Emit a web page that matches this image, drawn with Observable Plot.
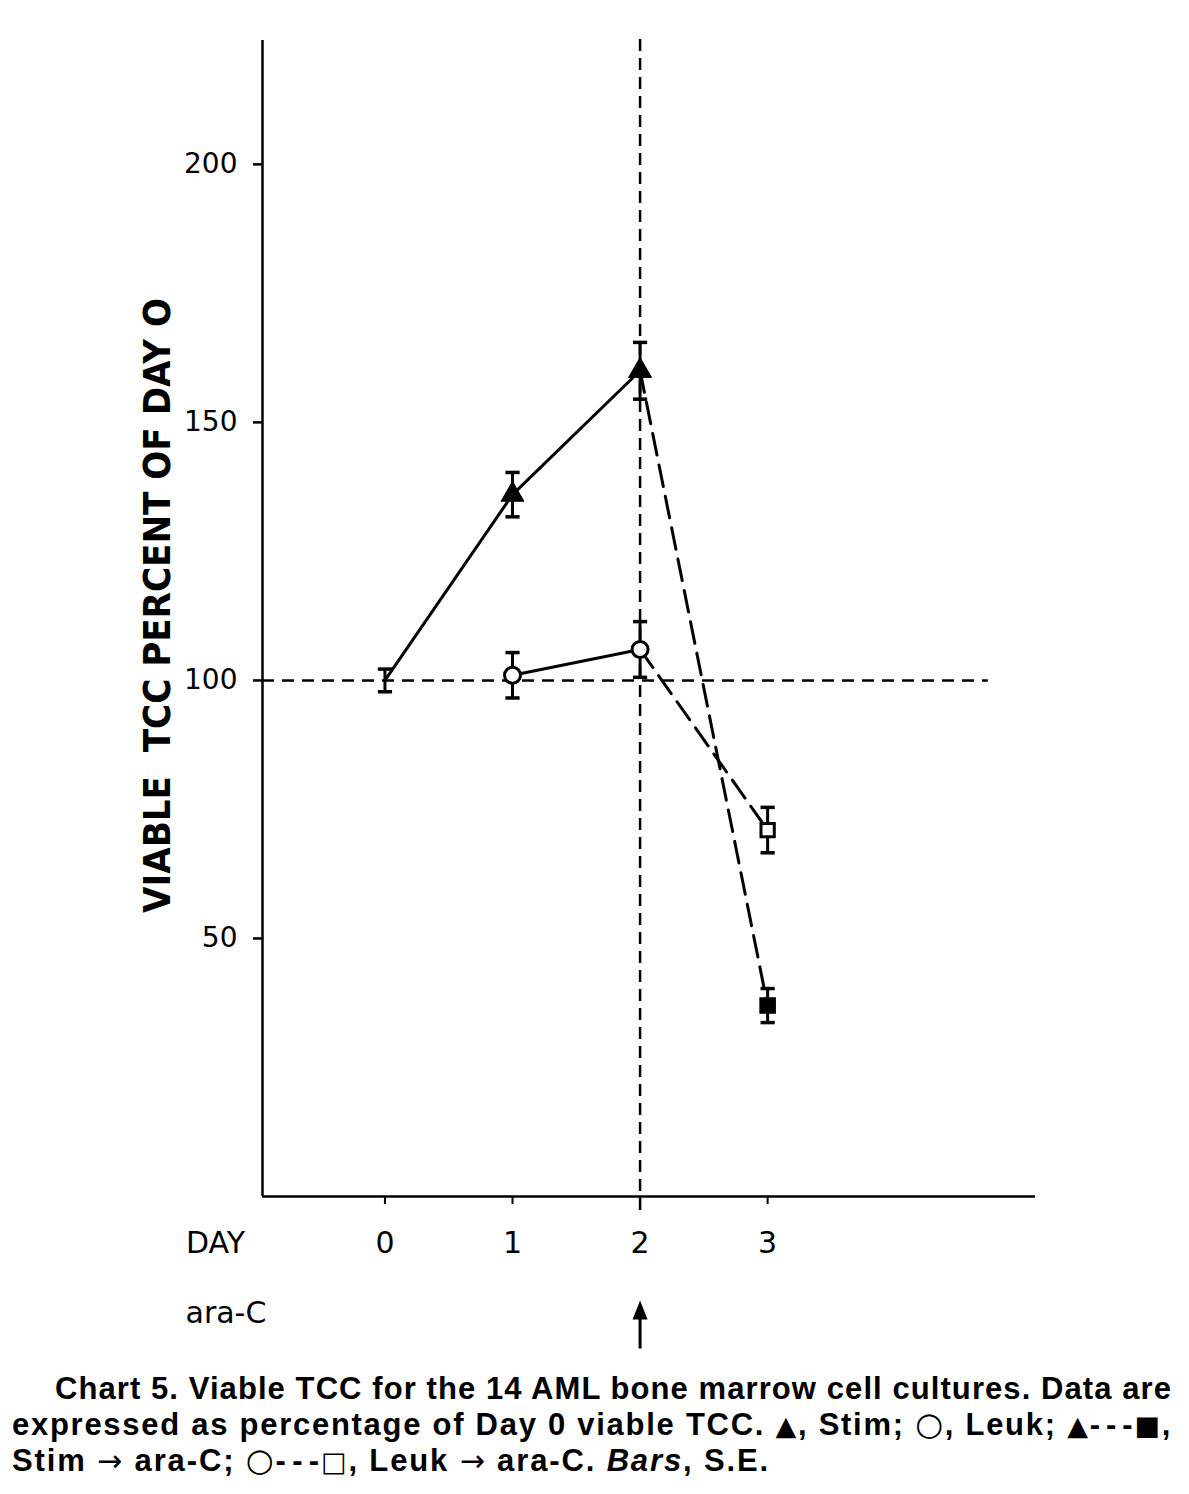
<!DOCTYPE html>
<html>
<head>
<meta charset="utf-8">
<script src="https://cdn.jsdelivr.net/npm/d3@7"></script>
<script src="https://cdn.jsdelivr.net/npm/@observablehq/plot@0.6"></script>
<style>
  html, body { margin: 0; padding: 0; background: #fff; }
  #chart svg { display: block; }
  #caption {
    width: 1160px; margin: 11px 0 0 12px;
    font-family: "Liberation Sans", Arial, sans-serif;
    font-weight: bold;
    font-size: 31px; line-height: 35.5px; color: #000;
  }
  #caption .ln { white-space: nowrap; }
  #caption .first { padding-left: 43px; }
  #caption .sym { font-family: "DejaVu Sans", sans-serif; font-weight: normal; font-size: 27px; }
  #caption .sym.o { font-size: 32px; line-height: 20px; }
  #caption .sym.arr { font-size: 30px; }
</style>
</head>
<body>
<div id="chart"></div>
<div id="caption">
  <div class="ln first"><span data-w="1117">Chart 5. Viable TCC for the 14 AML bone marrow cell cultures. Data are</span></div>
  <div class="ln"><span data-w="1160">expressed as percentage of Day 0 viable TCC. <span class="sym">▲</span>, Stim; <span class="sym o">○</span>, Leuk; <span class="sym">▲</span>-&#8202;-&#8202;-<span class="sym">■</span>,</span></div>
  <div class="ln"><span data-w="758">Stim <span class="sym arr">→</span> ara-C; <span class="sym o">○</span>-&#8202;-&#8202;-<span class="sym">□</span>, Leuk <span class="sym arr">→</span> ara-C. <i>Bars</i>, S.E.</span></div>
</div>
<script>
// ---- data ----
const dayTicks = [0, 1, 2, 3];
const yTicks = [50, 100, 150, 200];

const stimDays = [0, 1, 2];
const stimMean = [100, 136, 160];
const stimSE = [2.2, 4.3, 5.5];

const leukDays = [1, 2];
const leukMean = [101, 106];
const leukSE = [4.4, 5.4];

const stimAraDays = [2, 3];
const stimAraMean = [160, 37];
const stimAraSE = [null, 3.3];

const leukAraDays = [2, 3];
const leukAraMean = [106, 71];
const leukAraSE = [null, 4.4];

const xDomain = [-0.96, 5.1];
const yDomain = [0, 224];
const refLevel = 100;
const refLineEnd = 4.73;
const araCDay = 2;
const araCLineSpan = [-2.7, 225];
const yLabel = "VIABLE  TCC PERCENT OF DAY O";

// ---- tables ----
const rows = (days, mean, se) => days.map((d, i) => ({day: d, v: mean[i], se: se[i]}));
const stim = rows(stimDays, stimMean, stimSE);
const leuk = rows(leukDays, leukMean, leukSE);
const stimAra = rows(stimAraDays, stimAraMean, stimAraSE);
const leukAra = rows(leukAraDays, leukAraMean, leukAraSE);
const bars = [...stim, ...leuk, ...stimAra, ...leukAra].filter(d => d.se != null)
  .map(d => ({day: d.day, lo: d.v - d.se, hi: d.v + d.se}));

// cap symbol: a short horizontal stroke
const capSymbol = {draw(ctx, size) { const w = Math.sqrt(size); ctx.moveTo(-w, 0); ctx.lineTo(w, 0); }};
// arrow shape with a filled head
const arrowShape = {draw(ctx, l) {
  const hw = 1.5, headW = 7.5, headH = 19;
  ctx.moveTo(-hw, 0); ctx.lineTo(hw, 0); ctx.lineTo(hw, -l + headH); ctx.lineTo(headW, -l + headH);
  ctx.lineTo(0, -l); ctx.lineTo(-headW, -l + headH); ctx.lineTo(-hw, -l + headH); ctx.closePath();
}};

const plot = Plot.plot({
  width: 1189,
  height: 1360,
  marginLeft: 262,
  marginRight: 154,
  marginTop: 40,
  marginBottom: 164,
  style: {fontFamily: "DejaVu Sans", color: "#000", background: "#fff"},
  x: {domain: xDomain},
  y: {domain: yDomain},
  marks: [
    Plot.ruleX([xDomain[0]], {stroke: "#000", strokeWidth: 2.5}),
    Plot.ruleY([0], {stroke: "#000", strokeWidth: 2.5}),
    Plot.axisY({ticks: yTicks, tickSize: 9, tickPadding: 16, fontSize: 28, label: null, strokeWidth: 2.5}),
    Plot.axisX({ticks: dayTicks, tickFormat: d => String(d), tickSize: 8, tickPadding: 27, fontSize: 30, label: null, strokeWidth: 2}),
    // reference lines
    Plot.ruleY([refLevel], {x1: xDomain[0], x2: refLineEnd, stroke: "#000", strokeWidth: 2.5, strokeDasharray: "12,8"}),
    Plot.ruleX([araCDay], {y1: araCLineSpan[0], y2: araCLineSpan[1], stroke: "#000", strokeWidth: 2.5, strokeDasharray: "12,7"}),
    // series lines
    Plot.line(stim, {x: "day", y: "v", stroke: "#000", strokeWidth: 3}),
    Plot.line(leuk, {x: "day", y: "v", stroke: "#000", strokeWidth: 3}),
    Plot.line(stimAra, {x: "day", y: "v", stroke: "#000", strokeWidth: 3, strokeDasharray: "22,10"}),
    Plot.line(leukAra, {x: "day", y: "v", stroke: "#000", strokeWidth: 3, strokeDasharray: "22,10"}),
    // error bars
    Plot.ruleX(bars, {x: "day", y1: "lo", y2: "hi", stroke: "#000", strokeWidth: 3}),
    Plot.dot(bars, {x: "day", y: "lo", symbol: capSymbol, r: 4, stroke: "#000", strokeWidth: 3.5, fill: "none"}),
    Plot.dot(bars, {x: "day", y: "hi", symbol: capSymbol, r: 4, stroke: "#000", strokeWidth: 3.5, fill: "none"}),
    // markers
    Plot.dot(stim.filter(d => d.day > 0), {x: "day", y: "v", symbol: "triangle", r: 8.5, fill: "#000", stroke: "#000", strokeWidth: 1}),
    Plot.dot(leuk, {x: "day", y: "v", symbol: "circle", r: 8, fill: "#fff", stroke: "#000", strokeWidth: 3}),
    Plot.dot(leukAra.filter(d => d.day === 3), {x: "day", y: "v", symbol: "square", r: 7.5, fill: "#fff", stroke: "#000", strokeWidth: 3}),
    Plot.dot(stimAra.filter(d => d.day === 3), {x: "day", y: "v", symbol: "square", r: 8.5, fill: "#000", stroke: "#000", strokeWidth: 1.5}),
    // labels
    Plot.text([yLabel], {frameAnchor: "left", textAnchor: "middle", rotate: -90, dx: -104, dy: -13, fontSize: 37, fontWeight: "bold", fill: "#000", className: "ylab"}),
    Plot.text(["DAY"], {frameAnchor: "bottom-left", textAnchor: "middle", dx: -47, dy: 35, lineAnchor: "top", fontSize: 30, fill: "#000"}),
    Plot.text(["ara-C"], {frameAnchor: "bottom-left", dx: -77, dy: 126, textAnchor: "start", fontSize: 30, fill: "#000"}),
    Plot.vector([araCDay], {x: d => d, frameAnchor: "bottom", dy: 152, length: 48, rotate: 0, anchor: "start", shape: arrowShape, fill: "#000", stroke: "none"})
  ]
});
document.getElementById("chart").appendChild(plot);
// condense the y-axis title to the reference length
d3.select(plot).selectAll("g.ylab text").attr("textLength", 615).attr("lengthAdjust", "spacingAndGlyphs");

// spread caption lines to their target widths via letter spacing
document.querySelectorAll("#caption .ln > span").forEach(span => {
  const target = +span.dataset.w;
  if (!target) return;
  const natural = span.getBoundingClientRect().width;
  const chars = span.textContent.length;
  span.style.letterSpacing = ((target - natural) / chars) + "px";
});
</script>
</body>
</html>
